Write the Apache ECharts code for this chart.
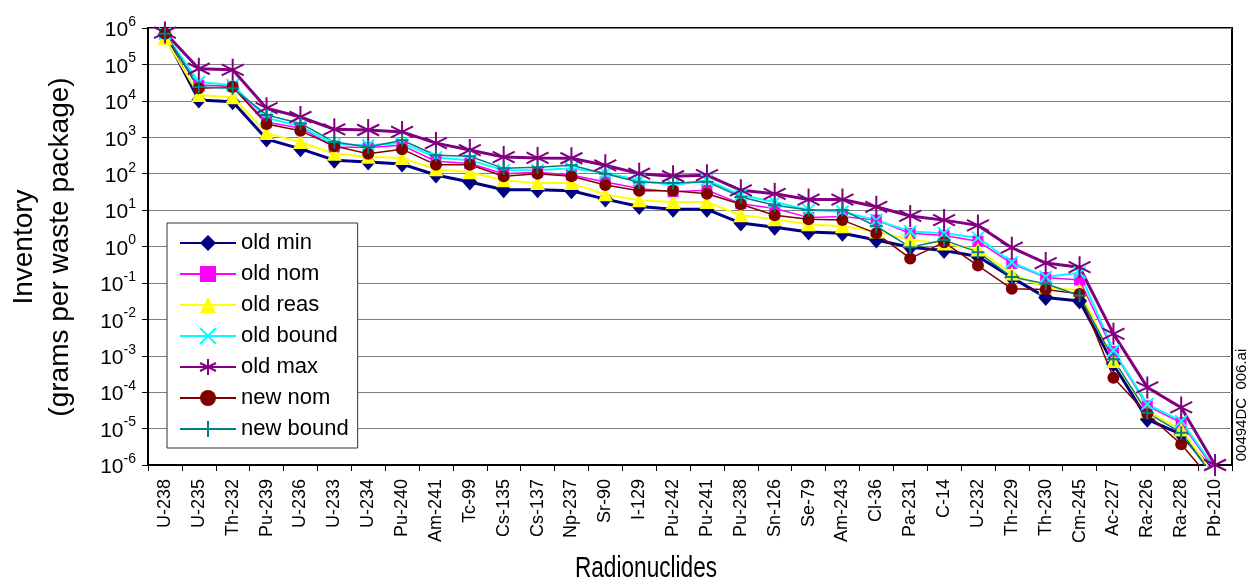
<!DOCTYPE html>
<html>
<head>
<meta charset="utf-8">
<script src="https://cdn.jsdelivr.net/npm/echarts@6/dist/echarts.min.js"></script>
<style>
html,body{margin:0;padding:0;background:#fff;}
#chart{width:1250px;height:582px;}
</style>
</head>
<body>
<div id="chart"></div>
<script>
var categories = ['U-238','U-235','Th-232','Pu-239','U-236','U-233','U-234','Pu-240','Am-241','Tc-99','Cs-135','Cs-137','Np-237','Sr-90','I-129','Pu-242','Pu-241','Pu-238','Sn-126','Se-79','Am-243','Cl-36','Pa-231','C-14','U-232','Th-229','Th-230','Cm-245','Ac-227','Ra-226','Ra-228','Pb-210'];

var oldMin   = [6.4e5,1.05e4,9.5e3,890,480,235,210,183,92,59,36,36,34,20,12.6,10.5,10.5,4.4,3.4,2.5,2.3,1.5,0.95,0.78,0.53,0.14,0.04,0.032,5.9e-4,1.8e-5,6.9e-6,6e-7];
var oldNom   = [7e5,2.7e4,2.5e4,2.6e3,1.8e3,540,520,600,220,190,100,110,92,59,39,32,35,15,11,6.3,6.7,5.3,2.3,2.0,1.4,0.34,0.14,0.12,1.3e-3,4.2e-5,1.45e-5,7e-7];
var oldReas  = [5.3e5,1.45e4,1.25e4,1.3e3,740,350,290,270,133,110,66,55,55,27,18.6,16.6,16.6,7.2,5.6,4.1,3.6,2.6,1.5,1.2,0.83,0.18,0.076,0.063,7.2e-4,3e-5,9.5e-6,5e-7];
var oldBound = [7e5,3.3e4,2.7e4,3.4e3,2.0e3,640,600,690,280,235,125,125,140,105,66,48,66,26,16.7,10,9,5.3,2.6,2.3,1.75,0.37,0.145,0.19,1.4e-3,4.7e-5,1.6e-5,8e-7];
var oldMax   = [7.5e5,7.6e4,7.1e4,6.3e3,3.6e3,1.65e3,1.58e3,1.4e3,690,445,285,270,265,170,100,85,91,35,28,19.5,19.5,12.3,6.9,5.3,3.8,0.93,0.35,0.27,4e-3,1.35e-4,3.8e-5,1e-6];
var newNom   = [7e5,2.2e4,2.4e4,2.3e3,1.5e3,570,350,470,175,175,85,100,85,49,34,34,28,14.5,7.2,5.6,5.3,2.3,0.47,1.3,0.3,0.069,0.066,0.05,2.5e-4,2.5e-5,3.7e-6,3e-7];
var newBound = [7e5,2.4e4,2.2e4,4.1e3,2.4e3,740,540,830,320,300,140,150,170,100,58,55,60,23,13.5,10,10,3.6,0.96,1.5,0.7,0.145,0.095,0.045,8e-4,2.7e-5,7.7e-6,4e-7];

var seriesNames = ['old min','old nom','old reas','old bound','old max','new nom','new bound'];
var yMinExp = -6, yMaxExp = 6;

var FONT = "'Liberation Sans', Arial, sans-serif";
var P_X = 'path://M0,0L10,10M10,0L0,10';
var P_STAR = 'path://M5,0L5,10M0.67,2.5L9.33,7.5M9.33,2.5L0.67,7.5';
var P_PLUS = 'path://M5,0L5,10M0,5L10,5';

function mk(name, data, color, lw, symbol, size, stroke, sw) {
  return {
    name: name, type: 'line', data: data,
    symbol: symbol, symbolSize: size, showAllSymbol: true,
    lineStyle: {color: color, width: lw},
    itemStyle: {color: stroke ? 'rgba(0,0,0,0)' : color, borderColor: color, borderWidth: stroke ? sw : 0, opacity: 1},
    emphasis: {disabled: true},
    animation: false
  };
}

var chart = echarts.init(document.getElementById('chart'), null, {renderer: 'canvas'});
chart.setOption({
  backgroundColor: '#fff',
  animation: false,
  grid: {left: 148, right: 18, top: 28, bottom: 117, show: true, borderColor: '#000', borderWidth: 2, containLabel: false},
  legend: {
    orient: 'vertical', left: 167, top: 223,
    backgroundColor: '#fff', borderColor: '#333', borderWidth: 1,
    padding: [9, 9, 8, 12],
    itemWidth: 56, itemHeight: 20, itemGap: 9,
    textStyle: {fontFamily: FONT, fontSize: 22, color: '#000'},
    data: seriesNames
  },
  xAxis: {
    type: 'category', data: categories, boundaryGap: true,
    axisLine: {show: true, lineStyle: {color: '#000', width: 2}},
    axisTick: {show: true, length: 6, lineStyle: {color: '#000', width: 1}},
    axisLabel: {rotate: 90, interval: 0, margin: 14, fontFamily: FONT, fontSize: 18, color: '#000'},
    splitLine: {show: false}
  },
  yAxis: {
    type: 'log', logBase: 10, min: Math.pow(10, yMinExp), max: Math.pow(10, yMaxExp), interval: 1,
    axisLine: {show: true, lineStyle: {color: '#000', width: 2}},
    axisTick: {show: true, length: 6, lineStyle: {color: '#000', width: 1}},
    splitLine: {show: true, lineStyle: {color: '#808080', width: 1}},
    axisLabel: {
      margin: 12, fontFamily: FONT, color: '#000',
      formatter: function (v) {
        var e = Math.round(Math.log(v) / Math.LN10);
        return '{b|10}{s|' + e + '}';
      },
      rich: {
        b: {fontFamily: FONT, fontSize: 21, color: '#000', lineHeight: 26, verticalAlign: 'bottom'},
        s: {fontFamily: FONT, fontSize: 14, color: '#000', lineHeight: 26, verticalAlign: 'top'}
      }
    }
  },
  graphic: [
    {type: 'text', x: 24, y: 247, rotation: Math.PI / 2, style: {text: 'Inventory', fontFamily: FONT, fontSize: 28, fill: '#000', align: 'center', verticalAlign: 'middle'}},
    {type: 'text', x: 60, y: 247, rotation: Math.PI / 2, style: {text: '(grams per waste package)', fontFamily: FONT, fontSize: 28, fill: '#000', align: 'center', verticalAlign: 'middle'}},
    {type: 'text', x: 646, y: 569, scaleX: 0.78, style: {text: 'Radionuclides', fontFamily: FONT, fontSize: 29, fill: '#000', align: 'center', verticalAlign: 'middle'}},
    {type: 'text', x: 1242, y: 405, rotation: Math.PI / 2, style: {text: '00494DC  006.ai', fontFamily: FONT, fontSize: 15, fill: '#000', align: 'center', verticalAlign: 'middle'}}
  ],
  series: [
    mk(seriesNames[0], oldMin, '#000080', 3, 'diamond', [15, 17], false, 0),
    mk(seriesNames[1], oldNom, '#FF00FF', 1.5, 'rect', 11, false, 0),
    mk(seriesNames[2], oldReas, '#FFFF00', 2, 'triangle', [15, 14], false, 0),
    mk(seriesNames[3], oldBound, '#00FFFF', 2, P_X, 12, true, 2),
    mk(seriesNames[4], oldMax, '#800080', 3, P_STAR, 22, true, 2),
    mk(seriesNames[5], newNom, '#800000', 1.5, 'circle', 12, false, 0),
    mk(seriesNames[6], newBound, '#008080', 1.5, P_PLUS, 13, true, 2)
  ]
});
</script>
</body>
</html>
